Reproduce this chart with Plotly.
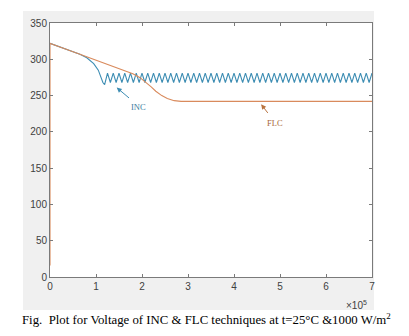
import plotly.graph_objects as go

# time axis values are in units of 1e5
flc_t = [0, 0, 0.65, 1.2, 1.6, 1.8, 1.95, 2.07, 2.2, 2.3, 2.43, 2.55, 2.7, 2.85, 7.0]
flc_v = [16, 322, 307, 294, 285, 280, 275, 269, 262, 256, 250, 246, 243, 242, 242]

inc_t = [0, 0.65, 0.8, 0.95, 1.05, 1.1, 1.15,
         1.1875, 1.25, 1.3125, 1.375, 1.4375, 1.5, 1.5625, 1.625, 1.6875, 1.75, 1.8125, 1.875, 1.9375,
         2.0, 2.0625, 2.125, 2.1875, 2.25, 2.3125, 2.375, 2.4375, 2.5, 2.5625, 2.625, 2.6875, 2.75, 2.8125, 2.875, 2.9375,
         3.0, 3.0625, 3.125, 3.1875, 3.25, 3.3125, 3.375, 3.4375, 3.5, 3.5625, 3.625, 3.6875, 3.75, 3.8125, 3.875, 3.9375,
         4.0, 4.0625, 4.125, 4.1875, 4.25, 4.3125, 4.375, 4.4375, 4.5, 4.5625, 4.625, 4.6875, 4.75, 4.8125, 4.875, 4.9375,
         5.0, 5.0625, 5.125, 5.1875, 5.25, 5.3125, 5.375, 5.4375, 5.5, 5.5625, 5.625, 5.6875, 5.75, 5.8125, 5.875, 5.9375,
         6.0, 6.0625, 6.125, 6.1875, 6.25, 6.3125, 6.375, 6.4375, 6.5, 6.5625, 6.625, 6.6875, 6.75, 6.8125, 6.875, 6.9375,
         7.0]
inc_v = [322, 307, 302, 294, 285, 277, 268,
         265, 281, 268, 281, 268, 281, 268, 281, 268, 281, 268, 281, 268,
         281, 268, 281, 268, 281, 268, 281, 268, 281, 268, 281, 268, 281, 268, 281, 268,
         281, 268, 281, 268, 281, 268, 281, 268, 281, 268, 281, 268, 281, 268, 281, 268,
         281, 268, 281, 268, 281, 268, 281, 268, 281, 268, 281, 268, 281, 268, 281, 268,
         281, 268, 281, 268, 281, 268, 281, 268, 281, 268, 281, 268, 281, 268, 281, 268,
         281, 268, 281, 268, 281, 268, 281, 268, 281, 268, 281, 268, 281, 268, 281, 268,
         281]

x_ticks = [0, 1, 2, 3, 4, 5, 6, 7]
x_tick_labels = ["0", "1", "2", "3", "4", "5", "6", "7"]
y_ticks = [0, 50, 100, 150, 200, 250, 300, 350]
y_tick_labels = ["0", "50", "100", "150", "200", "250", "300", "350"]

BLUE = "#3d8db3"
ORANGE = "#d98a5c"
AXC = "#7a7a7a"
TXT = "#404040"

fig = go.Figure()
fig.add_trace(go.Scatter(x=inc_t, y=inc_v, mode="lines", name="INC",
                         line=dict(color=BLUE, width=1.1)))
fig.add_trace(go.Scatter(x=flc_t, y=flc_v, mode="lines", name="FLC",
                         line=dict(color=ORANGE, width=1.1)))

axis_common = dict(showgrid=False, zeroline=False, showline=True, linecolor=AXC,
                   linewidth=1, mirror="ticks", ticks="inside", ticklen=3,
                   tickcolor=AXC, tickfont=dict(family="Liberation Sans, Arial", size=10, color=TXT))
fig.update_xaxes(range=[0, 7], tickvals=x_ticks, ticktext=x_tick_labels, **axis_common)
fig.update_yaxes(range=[0, 350], tickvals=y_ticks, ticktext=y_tick_labels, **axis_common)

shapes = [
    dict(type="rect", xref="paper", yref="paper", x0=-0.0839, x1=1.0062, y0=-0.1299, y1=1.0472,
         fillcolor="#f0f0f0", line=dict(width=0), layer="below"),
    dict(type="rect", xref="paper", yref="paper", x0=0, x1=1, y0=0, y1=1,
         fillcolor="white", line=dict(width=0), layer="below"),
]

annots = [
    dict(x=1.45, y=261, ax=1.75, ay=245, xref="x", yref="y", axref="x", ayref="y",
         text="", showarrow=True, arrowhead=2, arrowsize=1, arrowwidth=1, arrowcolor=BLUE),
    dict(x=1.93, y=234, xref="x", yref="y", text="INC", showarrow=False,
         xanchor="center", yanchor="middle",
         font=dict(family="Liberation Serif, Times New Roman", size=8.5, color="#3b7ea1")),
    dict(x=4.59, y=238, ax=4.76, ay=224, xref="x", yref="y", axref="x", ayref="y",
         text="", showarrow=True, arrowhead=2, arrowsize=1, arrowwidth=1, arrowcolor="#b8733f"),
    dict(x=4.9, y=212.5, xref="x", yref="y", text="FLC", showarrow=False,
         xanchor="center", yanchor="middle",
         font=dict(family="Liberation Serif, Times New Roman", size=8.5, color="#a8683a")),
    dict(x=0.953, y=-0.11, xref="paper", yref="paper", text="×10<sup>5</sup>", showarrow=False,
         xanchor="center", yanchor="middle",
         font=dict(family="Liberation Sans, Arial", size=10, color=TXT)),
    dict(x=0.4875, y=-0.167, xref="paper", yref="paper",
         text="Fig.  Plot for Voltage of INC &amp; FLC techniques at t=25°C &amp;1000 W/m<sup>2</sup>",
         showarrow=False, xanchor="center", yanchor="middle",
         font=dict(family="Liberation Serif, Times New Roman", size=12.8, color="black")),
]

fig.update_layout(width=409, height=336, margin=dict(l=50, r=37, t=23, b=59),
                  paper_bgcolor="white", plot_bgcolor="rgba(0,0,0,0)",
                  showlegend=False, shapes=shapes, annotations=annots)

fig.write_html("out.html")
